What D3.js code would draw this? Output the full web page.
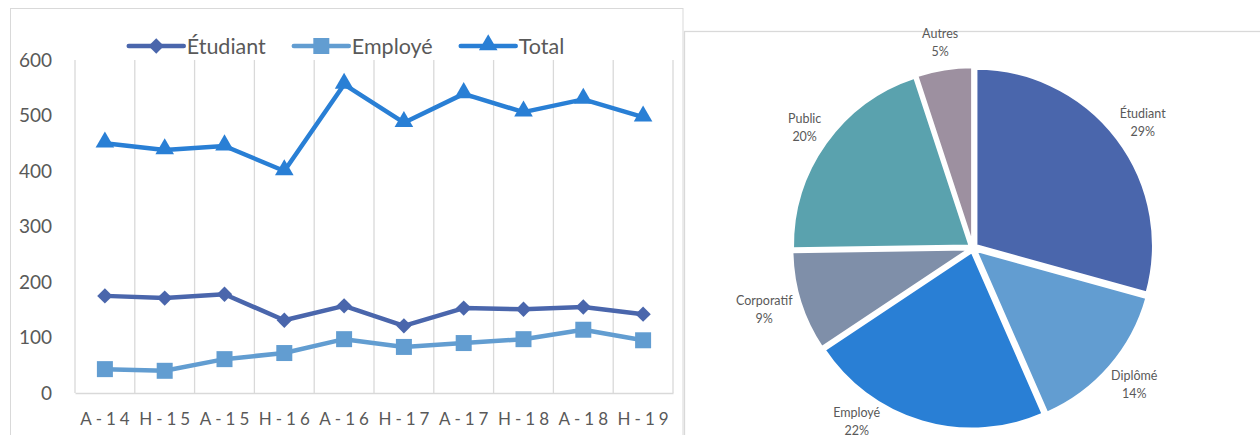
<!DOCTYPE html>
<html>
<head>
<meta charset="utf-8">
<script src="https://cdn.jsdelivr.net/npm/d3@7"></script>
<style>
    body { margin: 0; background: #fff; }
    svg { display: block; font-family: Lato, "Noto Sans", sans-serif; }
</style>
</head>
<body>
<svg id="chart" width="1260" height="435"></svg>
<script>
// sessions (A = automne, H = hiver)
var sessions = ["A-14", "H-15", "A-15", "H-16", "A-16", "H-17", "A-17", "H-18", "A-18", "H-19"];
var etudiantValues = [175, 171, 178, 131, 157, 121, 153, 151, 155, 142];
var employeValues = [43, 40, 61, 72, 97, 83, 90, 97, 114, 95];
var totalValues = [450, 438, 445, 400, 556, 487, 539, 506, 529, 497];
var yTicks = [0, 100, 200, 300, 400, 500, 600];

var pieCategories = ["Étudiant", "Diplômé", "Employé", "Corporatif", "Public", "Autres"];
var pieShares = [29, 14, 22, 9, 20, 5];

var W = 1260, H = 435;
var textColor = "#595959";
var gridColor = "#d9d9d9";

var svg = d3.select("#chart");

// ---------- line chart ----------
var plot = { left: 75, right: 673, top: 60, bottom: 393 };

var series = [
    { name: "Étudiant", values: etudiantValues, color: "#4a66ac", marker: "diamond" },
    { name: "Employé", values: employeValues, color: "#629dd1", marker: "square" },
    { name: "Total", values: totalValues, color: "#297fd5", marker: "triangle" }
];

function markerPath(kind) {
    if (kind === "diamond") return d3.symbol(d3.symbolSquare, 118)();
    if (kind === "square") return d3.symbol(d3.symbolSquare, 256)();
    return d3.symbol(d3.symbolTriangle, 150)();
}

function markerTransform(kind, px, py) {
    var t = "translate(" + px + "," + py + ")";
    if (kind === "diamond") t += " rotate(45)";
    if (kind === "triangle") t += " translate(0,-1)";
    return t;
}

svg.append("rect")
    .attr("x", 10.5).attr("y", 8.5)
    .attr("width", 672.5).attr("height", H)
    .attr("fill", "none").attr("stroke", gridColor);

var x = d3.scaleBand().domain(sessions).range([plot.left, plot.right]);
var y = d3.scaleLinear().domain([0, 600]).range([plot.bottom, plot.top]);

var edges = sessions.map(function(s) { return x(s); }).concat([plot.right]);
svg.append("g").attr("class", "grid")
    .selectAll("line").data(edges).join("line")
    .attr("x1", function(d) { return d; }).attr("x2", function(d) { return d; })
    .attr("y1", plot.top).attr("y2", plot.bottom)
    .attr("stroke", gridColor).attr("stroke-width", 1.3);

var yAxis = svg.append("g")
    .attr("transform", "translate(" + plot.left + ",0)")
    .call(d3.axisLeft(y).tickValues(yTicks).tickSize(0).tickPadding(23));
yAxis.select(".domain").remove();
yAxis.selectAll("text")
    .attr("fill", textColor).style("font-size", "19px")
    .style("font-family", "Lato, 'Noto Sans', sans-serif");

var xAxis = svg.append("g")
    .attr("transform", "translate(0," + plot.bottom + ")")
    .call(d3.axisBottom(x).tickSize(0).tickPadding(20));
xAxis.select(".domain").attr("stroke", gridColor).attr("stroke-width", 1.5);
xAxis.selectAll("text")
    .attr("fill", textColor).attr("dx", 2)
    .style("font-size", "17px").style("letter-spacing", "4px")
    .style("font-family", "Lato, 'Noto Sans', sans-serif");

var line = d3.line()
    .x(function(d, i) { return x(sessions[i]) + x.bandwidth() / 2; })
    .y(function(d) { return y(d); });

var seriesGroups = svg.append("g").selectAll("g.series")
    .data(series).join("g").attr("class", "series");

seriesGroups.append("path")
    .attr("d", function(s) { return line(s.values); })
    .attr("fill", "none")
    .attr("stroke", function(s) { return s.color; })
    .attr("stroke-width", 4.5)
    .attr("stroke-linejoin", "round");

seriesGroups.each(function(s) {
    d3.select(this).selectAll("path.marker")
        .data(s.values).join("path")
        .attr("class", "marker")
        .attr("d", markerPath(s.marker))
        .attr("transform", function(d, i) {
            return markerTransform(s.marker, x(sessions[i]) + x.bandwidth() / 2, y(d));
        })
        .attr("fill", s.color);
});

// legend
var legend = svg.append("g").attr("class", "legend");
var lx = 0;
series.forEach(function(s) {
    var item = legend.append("g").attr("transform", "translate(" + lx + ",0)");
    item.append("line")
        .attr("x1", 0).attr("x2", 55).attr("y1", 0).attr("y2", 0)
        .attr("stroke", s.color).attr("stroke-width", 4.5).attr("stroke-linecap", "round");
    item.append("path")
        .attr("d", markerPath(s.marker))
        .attr("transform", markerTransform(s.marker, 27.5, 0))
        .attr("fill", s.color);
    var t = item.append("text")
        .attr("x", 58).attr("y", 7.5)
        .attr("fill", textColor).style("font-size", "21.5px")
        .text(s.name);
    lx += 58 + t.node().getComputedTextLength() + 28;
});
lx -= 28;
legend.attr("transform", "translate(" + ((10 + 683) / 2 - lx / 2) + ",46)");

// ---------- pie chart ----------
svg.append("rect")
    .attr("x", 684.5).attr("y", 31.5)
    .attr("width", W).attr("height", H)
    .attr("fill", "none").attr("stroke", gridColor).attr("stroke-width", 1.3);

var pieColors = ["#4a66ac", "#629dd1", "#297fd5", "#7f8fa9", "#5aa2ae", "#9d90a0"];
var center = [973, 248];
var radius = 177;
var explode = 4;

var arcs = d3.pie().sort(null).value(function(d) { return d; })(pieShares);
var arc = d3.arc().innerRadius(0).outerRadius(radius);

function midDir(a) {
    var m = (a.startAngle + a.endAngle) / 2;
    return [Math.sin(m), -Math.cos(m)];
}

var pieG = svg.append("g").attr("transform", "translate(" + center[0] + "," + center[1] + ")");

pieG.selectAll("path.slice")
    .data(arcs).join("path")
    .attr("class", "slice")
    .attr("d", arc)
    .attr("transform", function(a) {
        var d = midDir(a);
        return "translate(" + d[0] * explode + "," + d[1] * explode + ")";
    })
    .attr("fill", function(a, i) { return pieColors[i]; })
    .attr("stroke", "#fff").attr("stroke-width", 2.5);

var labelR = radius + 13;
var labelLimit = H - 14;

pieG.selectAll("text.plabel")
    .data(arcs).join("text")
    .attr("class", "plabel")
    .attr("text-anchor", "middle")
    .attr("fill", textColor)
    .style("font-size", "12.5px")
    .each(function(a, i) {
        var t = d3.select(this);
        t.append("tspan").attr("x", 0).text(pieCategories[i]);
        t.append("tspan").attr("x", 0).text(pieShares[i] + "%");
        var w = this.getBBox().width, h = 36;
        var d = midDir(a);
        var px = d[0] * labelR + d[0] * w / 2;
        var py = d[1] * labelR + d[1] * h / 2;
        // keep the label inside the picture: slide it round the pie
        if (center[1] + py > labelLimit) {
            var dist = Math.sqrt(px * px + py * py);
            var ny = labelLimit - center[1];
            px = (px < 0 ? -1 : 1) * Math.sqrt(dist * dist - ny * ny);
            py = ny;
        }
        t.selectAll("tspan").attr("x", px)
            .attr("y", function(d2, j) { return py - 4.5 + j * 18; });
    });
</script>
</body>
</html>
